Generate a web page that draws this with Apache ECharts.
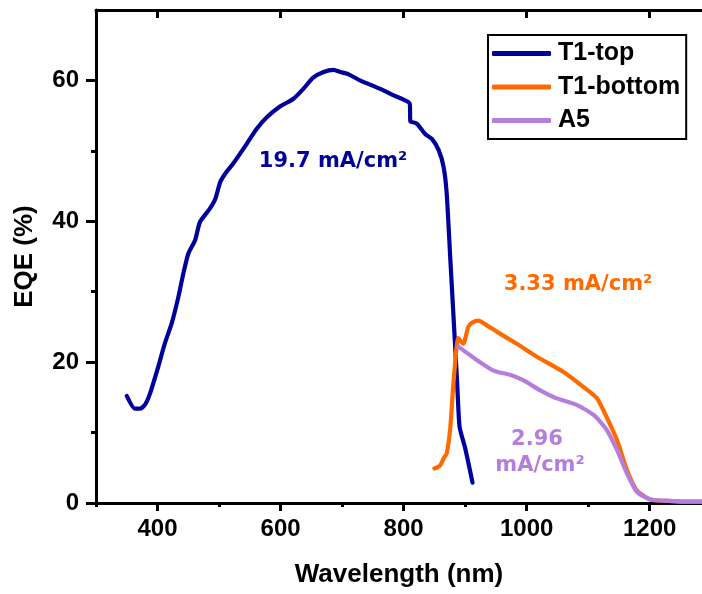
<!DOCTYPE html>
<html>
<head>
<meta charset="utf-8">
<script src="https://cdn.jsdelivr.net/npm/echarts@6/dist/echarts.min.js"></script>
<style>html,body{margin:0;padding:0;background:#fff}#c{width:702px;height:594px}</style>
</head>
<body>
<div id="c"></div>
<script>
// ---- data ----
const seriesNames = ['T1-top', 'T1-bottom', 'A5'];
const topX = [350,363,372,380,388,401,412,423,434,442,450,461,469,485,494,502,512,523,545,561,578,599,621,637,653,670,686,697,710,729,762,783,810,811,821,835,846,857,865,870,876,880,887,891,900,912];
const topY = [15.2,13.4,13.4,14.0,15.6,19.3,22.7,25.5,29.3,32.6,35.4,37.3,39.9,41.8,43.2,45.6,47.0,48.2,51.0,53.1,54.8,56.3,57.4,58.8,60.4,61.2,61.5,61.2,60.9,60.0,58.8,57.9,56.7,54.2,53.9,52.4,51.7,50.1,47.7,44.0,34.5,28.2,17.1,10.8,7.8,2.9];
const bottomX = [850,859,866,870,876,881,889,897,905,911,922,932,952,984,1016,1060,1092,1114,1130,1147,1163,1179,1201,1230,1255,1285];
const bottomY = [4.9,5.3,6.5,7.0,10.8,17.0,23.4,22.6,25.0,25.6,25.9,25.4,24.3,22.6,20.8,18.6,16.5,14.9,12.2,8.9,4.7,1.8,0.5,0.3,0.2,0.2];
const a5X = [889,919,946,973,995,1022,1049,1082,1109,1130,1147,1163,1179,1201,1230,1255,1285];
const a5Y = [22.2,20.3,18.8,18.2,17.4,16.0,14.85,13.9,12.5,10.4,7.5,4.2,1.6,0.5,0.3,0.2,0.2];
const xMajorTicks = [400,600,800,1000,1200];
const xMinorTicks = [300,500,700,900,1100];
const yMajorTicks = [0,20,40,60];
const yMinorTicks = [10,30,50];
const annotations = ['19.7 mA/cm²', '3.33 mA/cm²', '2.96', 'mA/cm²'];

const colors = ['#00009C', '#FF6A00', '#B57EDC'];
const zip = (xs, ys) => xs.map((x, i) => [x, ys[i]]);

const chart = echarts.init(document.getElementById('c'), null, {renderer: 'canvas'});
const axisFont = {fontFamily: '"Liberation Sans", Arial, sans-serif', fontWeight: 'bold', color: '#000'};
const X_MIN = 300, X_MAX = 1285;

function xAx(pos, major, opts) {
  return Object.assign({
    type: 'value', min: X_MIN, max: X_MAX, position: pos, gridIndex: 0,
    splitLine: {show: false},
    axisLine: {show: false},
    axisLabel: {show: false},
    axisTick: {show: true, inside: pos === 'top', length: major ? 8 : 4,
      customValues: major ? xMajorTicks : xMinorTicks,
      lineStyle: {color: '#000', width: 3}}
  }, opts || {});
}

function lineSeries(i, data) {
  return {name: seriesNames[i], type: 'line', data: data, showSymbol: false, symbol: 'none',
    smooth: 0.2,
    lineStyle: {color: colors[i], width: 4.2, cap: 'round', join: 'round'}, itemStyle: {color: colors[i]}};
}

const option = {
  animation: false,
  backgroundColor: '#fff',
  grid: {left: 96, right: 0, top: 10, bottom: 91, containLabel: false},
  xAxis: [
    xAx('bottom', true, {
      axisLine: {show: true, onZero: false, lineStyle: {color: '#000', width: 3}},
      axisLabel: Object.assign({show: true, fontSize: 24, margin: 14, customValues: xMajorTicks,
        formatter: v => String(v)}, axisFont),
      name: 'Wavelength (nm)', nameLocation: 'middle', nameGap: 59,
      nameTextStyle: Object.assign({fontSize: 26}, axisFont)
    }),
    xAx('bottom', false),
    xAx('top', true, {axisLine: {show: true, onZero: false, lineStyle: {color: '#000', width: 3}}}),
    xAx('top', false)
  ],
  yAxis: [
    {
      type: 'value', min: 0, max: 70, position: 'left',
      splitLine: {show: false},
      axisLine: {show: true, onZero: false, lineStyle: {color: '#000', width: 3}},
      axisTick: {show: true, length: 10, customValues: yMajorTicks, lineStyle: {color: '#000', width: 3}},
      axisLabel: Object.assign({fontSize: 24, margin: 17, customValues: yMajorTicks, formatter: v => String(v)}, axisFont),
      name: 'EQE (%)', nameLocation: 'middle', nameGap: 58,
      nameTextStyle: Object.assign({fontSize: 26}, axisFont)
    },
    {
      type: 'value', min: 0, max: 70, position: 'left',
      splitLine: {show: false},
      axisLine: {show: false},
      axisLabel: {show: false},
      axisTick: {show: true, length: 5, customValues: yMinorTicks, lineStyle: {color: '#000', width: 3}}
    }
  ],
  legend: {
    orient: 'vertical', left: 488, top: 35,
    data: seriesNames,
    icon: 'roundRect', itemWidth: 59, itemHeight: 5, itemGap: 8.5,
    padding: [6, 6, 6, 4],
    borderColor: '#000', borderWidth: 2, borderRadius: 0,
    backgroundColor: '#fff',
    textStyle: Object.assign({fontSize: 25, lineHeight: 24, padding: [0, 0, 0, 2]}, axisFont)
  },
  series: [
    lineSeries(0, zip(topX, topY)),
    lineSeries(1, zip(bottomX, bottomY)),
    lineSeries(2, zip(a5X, a5Y))
  ],
  graphic: [
    {type: 'text', x: 333, y: 162, style: {text: annotations[0], fill: colors[0], font: 'bold 21px "DejaVu Sans"', textAlign: 'center', textVerticalAlign: 'middle'}},
    {type: 'text', x: 578, y: 285, style: {text: annotations[1], fill: colors[1], font: 'bold 21px "DejaVu Sans"', textAlign: 'center', textVerticalAlign: 'middle'}},
    {type: 'text', x: 537, y: 440, style: {text: annotations[2], fill: colors[2], font: 'bold 21px "DejaVu Sans"', textAlign: 'center', textVerticalAlign: 'middle'}},
    {type: 'text', x: 540, y: 466, style: {text: annotations[3], fill: colors[2], font: 'bold 21px "DejaVu Sans"', textAlign: 'center', textVerticalAlign: 'middle'}}
  ]
};
chart.setOption(option);
</script>
</body>
</html>
